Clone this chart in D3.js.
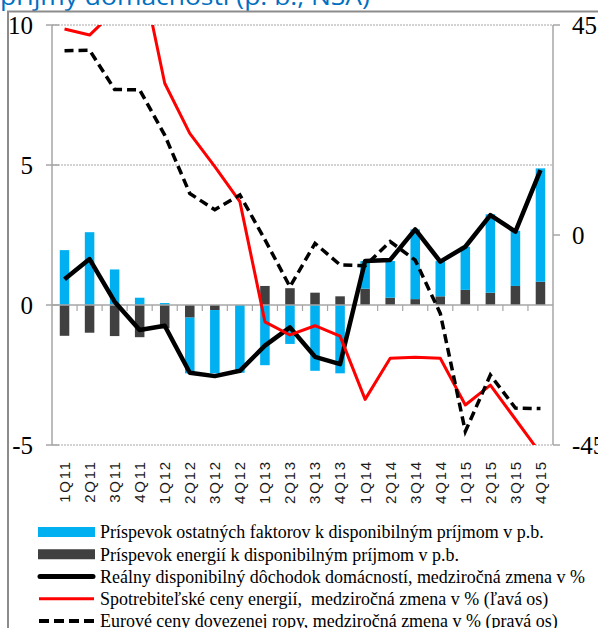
<!DOCTYPE html>
<html>
<head>
<meta charset="utf-8">
<script src="https://cdn.jsdelivr.net/npm/d3@7"></script>
<style>
  body { margin: 0; background: #fff; }
  svg { display: block; }
</style>
</head>
<body>
<div id="chart"></div>
<script>
const quarters = ['1Q11', '2Q11', '3Q11', '4Q11', '1Q12', '2Q12', '3Q12', '4Q12', '1Q13', '2Q13',
  '3Q13', '4Q13', '1Q14', '2Q14', '3Q14', '4Q14', '1Q15', '2Q15', '3Q15', '4Q15']
// contributions, p.b. (left axis)
const others = [1.96, 2.6, 1.27, 0.26, 0.07, -1.99, -2.26, -2.42, -2.15, -1.39,
  -2.35, -2.44, 0.99, 1.31, 2.49, 1.26, 1.54, 2.8, 1.97, 4.05]
const energy = [-1.1, -0.99, -1.11, -1.15, -0.83, -0.45, -0.18, 0, 0.68, 0.6,
  0.44, 0.31, 0.58, 0.26, 0.21, 0.31, 0.54, 0.44, 0.68, 0.83]
// real disposable income, y/y % (left axis)
const income = [0.92, 1.64, 0.12, -0.89, -0.74, -2.42, -2.54, -2.35, -1.45, -0.8,
  -1.85, -2.11, 1.57, 1.61, 2.7, 1.55, 2.08, 3.21, 2.62, 4.82]
// consumer energy prices, y/y % (left axis)
const energyPrices = [9.86, 9.64, 10.5, 12.2, 7.92, 6.13, 4.94, 3.69, -0.6, -1.07,
  -0.74, -1.11, -3.37, -1.9, -1.87, -1.9, -3.57, -2.86, -4.08, -5.3]
// euro prices of imported oil, y/y % (right axis)
const oilPrices = [39.5, 39.6, 31.2, 31.1, 21.4, 8.9, 5.4, 8.6, -1.0, -11.1,
  -1.8, -6.4, -6.6, -1.4, -5.4, -16.8, -42.1, -30.0, -37.1, -37.2]
const leftTicks = [-5, 0, 5, 10]
const rightTicks = [-45, 0, 45]
const legendLabels = [
  'Príspevok ostatných faktorov k disponibilným príjmom v p.b.',
  'Príspevok energií k disponibilným príjmom v p.b.',
  'Reálny disponibilný dôchodok domácností, medziročná zmena v %',
  'Spotrebiteľské ceny energií,\u00a0 medziročná zmena v % (ľavá os)',
  'Eurové ceny dovezenej ropy, medziročná zmena v % (pravá os)'
]

const width = 598
const height = 628
const plotLeft = 52
const plotRight = 553
const plotTop = 25
const plotBottom = 445
const serif = '"Liberation Serif", "Times New Roman", serif'
const sans = '"Liberation Sans", Arial, sans-serif'

const svg = d3.select('#chart').append('svg').attr('width', width).attr('height', height)

// title (cut off by the top edge) and frame
const title = svg.append('text').attr('x', 0).attr('y', 5)
  .attr('font-family', '"Open Sans", sans-serif').attr('font-size', 23).attr('fill', '#0070c0')
  .text('príjmy domácností (p. b., NSA)')
const tk = 370 / title.node().getComputedTextLength()
title.attr('transform', `scale(${tk},1)`)
svg.append('rect').attr('x', 8).attr('y', 11.5).attr('width', 620).attr('height', 640)
  .attr('fill', 'none').attr('stroke', '#8c8c8c').attr('stroke-width', 2)

const x = d3.scaleBand().domain(quarters).range([plotLeft, plotRight]).paddingInner(0.62).paddingOuter(0.31)
const step = x.step()
const cx = (q) => x(q) + x.bandwidth() / 2
const yL = d3.scaleLinear().domain([-5, 10]).range([plotBottom, plotTop])
const yR = d3.scaleLinear().domain([-45, 45]).range([plotBottom, plotTop])

// gridlines
svg.append('g').selectAll('line').data(leftTicks.filter((d) => d !== 0)).enter().append('line')
  .attr('x1', plotLeft).attr('x2', plotRight).attr('y1', (d) => yL(d)).attr('y2', (d) => yL(d))
  .attr('stroke', '#a6a6a6').attr('stroke-width', 1).attr('stroke-dasharray', '2,1')

// axes lines
svg.append('line').attr('x1', plotLeft).attr('x2', plotLeft).attr('y1', plotTop).attr('y2', plotBottom)
  .attr('stroke', '#a6a6a6').attr('stroke-width', 1.5)
svg.append('line').attr('x1', plotRight).attr('x2', plotRight).attr('y1', plotTop).attr('y2', plotBottom)
  .attr('stroke', '#a6a6a6').attr('stroke-width', 1.5)
svg.append('g').selectAll('line').data(leftTicks).enter().append('line')
  .attr('x1', plotLeft - 6).attr('x2', plotLeft + 7).attr('y1', (d) => yL(d)).attr('y2', (d) => yL(d))
  .attr('stroke', '#a6a6a6').attr('stroke-width', 1.5)
svg.append('g').selectAll('line').data(rightTicks).enter().append('line')
  .attr('x1', plotRight).attr('x2', plotRight + 7).attr('y1', (d) => yR(d)).attr('y2', (d) => yR(d))
  .attr('stroke', '#a6a6a6').attr('stroke-width', 1.5)

svg.append('g').selectAll('text').data(leftTicks).enter().append('text')
  .attr('x', 33).attr('y', (d) => yL(d)).attr('dy', '0.34em').attr('text-anchor', 'end')
  .attr('font-family', serif).attr('font-size', 25).attr('fill', '#000')
  .text((d) => d)
svg.append('g').selectAll('text').data(rightTicks).enter().append('text')
  .attr('x', 572).attr('y', (d) => yR(d)).attr('dy', '0.34em')
  .attr('font-family', serif).attr('font-size', 25).attr('fill', '#000')
  .text((d) => d)

// stacked bars
const table = quarters.map((q, i) => ({ q, energy: energy[i], others: others[i] }))
const series = d3.stack().keys(['energy', 'others']).offset(d3.stackOffsetDiverging)(table)
const colors = { energy: '#404040', others: '#00b0f0' }
svg.append('g').selectAll('g').data(series).enter().append('g')
  .attr('fill', (s) => colors[s.key])
  .selectAll('rect').data((s) => s).enter().append('rect')
  .attr('x', (d) => x(d.data.q)).attr('width', x.bandwidth())
  .attr('y', (d) => yL(Math.max(d[0], d[1])))
  .attr('height', (d) => Math.abs(yL(d[0]) - yL(d[1])))

// category axis at zero
svg.append('line').attr('x1', plotLeft).attr('x2', plotRight).attr('y1', yL(0)).attr('y2', yL(0))
  .attr('stroke', '#a6a6a6').attr('stroke-width', 1.5)
svg.append('g').selectAll('line').data(quarters.slice(1)).enter().append('line')
  .attr('x1', (q) => x(q) - step * 0.31).attr('x2', (q) => x(q) - step * 0.31)
  .attr('y1', yL(0)).attr('y2', yL(0) + 6)
  .attr('stroke', '#a6a6a6').attr('stroke-width', 1.2)

svg.append('g').selectAll('text').data(quarters).enter().append('text')
  .attr('transform', (q) => `translate(${cx(q)},460) rotate(-90)`)
  .attr('dy', '0.36em').attr('text-anchor', 'end')
  .attr('font-family', sans).attr('font-size', 15).attr('letter-spacing', 1.8).attr('fill', '#1a1a1a')
  .text((q) => q)

// lines
svg.append('clipPath').attr('id', 'plot').append('rect')
  .attr('x', plotLeft).attr('y', plotTop).attr('width', plotRight - plotLeft).attr('height', plotBottom - plotTop)
const plot = svg.append('g').attr('clip-path', 'url(#plot)')
const lineL = d3.line().x((d, i) => cx(quarters[i])).y((d) => yL(d))
const lineR = d3.line().x((d, i) => cx(quarters[i])).y((d) => yR(d))

plot.append('path').attr('d', lineL(income)).attr('fill', 'none')
  .attr('stroke', '#000').attr('stroke-width', 4.5).attr('stroke-linejoin', 'round')
plot.append('path').attr('d', lineL(energyPrices)).attr('fill', 'none')
  .attr('stroke', '#ff0000').attr('stroke-width', 3).attr('stroke-linejoin', 'round')
plot.append('path').attr('d', lineR(oilPrices)).attr('fill', 'none')
  .attr('stroke', '#000').attr('stroke-width', 3.5).attr('stroke-dasharray', '9,5')

// legend
const rowY = d3.scalePoint().domain(d3.range(legendLabels.length)).range([532, 621])
const legend = svg.append('g')
const swatch = [
  (g) => g.append('rect').attr('x', 38).attr('y', -5).attr('width', 57).attr('height', 10).attr('fill', colors.others),
  (g) => g.append('rect').attr('x', 38).attr('y', -5).attr('width', 57).attr('height', 10).attr('fill', colors.energy),
  (g) => g.append('line').attr('x1', 40).attr('x2', 93).attr('stroke', '#000').attr('stroke-width', 5).attr('stroke-linecap', 'round'),
  (g) => g.append('line').attr('x1', 39).attr('x2', 94).attr('stroke', '#ff0000').attr('stroke-width', 3),
  (g) => g.append('line').attr('x1', 39).attr('x2', 95).attr('stroke', '#000').attr('stroke-width', 4).attr('stroke-dasharray', '10,5')
]
legendLabels.forEach((label, i) => {
  const g = legend.append('g').attr('transform', `translate(0,${rowY(i)})`)
  swatch[i](g)
  g.append('text').attr('x', 100).attr('dy', '0.33em')
    .attr('font-family', serif).attr('font-size', 19).attr('fill', '#000')
    .text(label)
})
// squeeze legend text to the reference width
const first = legend.select('text').node()
const k = 444 / first.getComputedTextLength()
legend.selectAll('text').attr('transform', `translate(100,0) scale(${k},1) translate(-100,0)`)
</script>
</body>
</html>
